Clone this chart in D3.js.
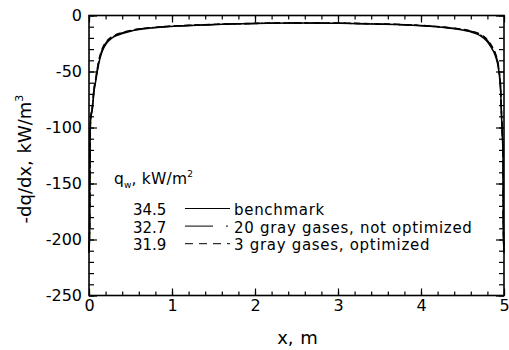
<!DOCTYPE html>
<html>
<head>
<meta charset="utf-8">
<script src="https://cdn.jsdelivr.net/npm/d3@7"></script>
<style>
  html, body { margin: 0; padding: 0; background: #fff; }
  svg text { font-family: "DejaVu Sans", "Liberation Sans", sans-serif; fill: #000; }
</style>
</head>
<body>
<svg id="chart" width="509" height="350"></svg>
<script>
// Positions across the slab, m
const xPos = [0, 0.008, 0.012, 0.02, 0.04, 0.06, 0.08, 0.1, 0.12, 0.15, 0.18, 0.22, 0.27, 0.33, 0.4, 0.5,
  0.6, 0.75, 0.9, 1.1, 1.3, 1.6, 2.0, 2.5, 3.0, 3.4, 3.7, 3.9, 4.1, 4.25, 4.4, 4.5, 4.6, 4.67,
  4.73, 4.78, 4.82, 4.85, 4.88, 4.9, 4.92, 4.94, 4.96, 4.97, 4.98, 4.988, 4.992, 5];

// -dq/dx, kW/m^3
const benchmark = [-212, -190, -120, -93, -84, -68, -59, -50, -42, -34, -28.5, -24, -20.5, -18, -16, -14,
  -12.6, -11.2, -10.2, -9.3, -8.6, -7.9, -7.2, -6.8, -7.0, -7.5, -8.1, -8.7, -9.6, -10.5, -11.8,
  -12.9, -14.6, -16.4, -18.8, -21.8, -25.5, -29, -33, -37, -42, -51, -68, -90, -108, -125, -190, -212];
const gray20 = [-210, -188, -118, -92, -82.5, -66.5, -57.5, -48.5, -40.5, -32.5, -27.3, -23, -19.8, -17.4, -15.5, -13.6,
  -12.3, -11.0, -10.0, -9.2, -8.5, -7.8, -7.1, -6.7, -6.9, -7.4, -8.0, -8.6, -9.4, -10.3, -11.5,
  -12.5, -14.1, -15.8, -18.0, -20.8, -24.3, -27.7, -31.6, -35.5, -40.5, -49.5, -66.5, -88.5, -106, -123, -188, -210];
const gray3 = [-208, -186, -116, -91, -81.5, -65.5, -56.5, -47.5, -39.5, -31.5, -26.5, -22.4, -19.3, -17.0, -15.2, -13.4,
  -12.1, -10.9, -9.9, -9.1, -8.4, -7.7, -7.0, -6.6, -6.8, -7.3, -7.9, -8.5, -9.3, -10.1, -11.3,
  -12.2, -13.8, -15.4, -17.5, -20.2, -23.6, -26.9, -30.7, -34.5, -39.5, -48.5, -65.5, -87.5, -105, -121, -186, -208];

const legendValues = ["34.5", "32.7", "31.9"];
const legendNames = ["benchmark", "20 gray gases, not optimized", "3 gray gases, optimized"];
const legendDashes = [null, "28,13,2,40", "8,6"];
const curveDashes = [null, "14,3,2,3", "6,4"];

const xTicks = [0, 1, 2, 3, 4, 5];
const yTicks = [0, -50, -100, -150, -200, -250];

const margin = { left: 89, right: 5, top: 15.5, bottom: 54.5 };
const W = 509, H = 350;
const svg = d3.select("#chart");

const x = d3.scaleLinear().domain([0, 5]).range([margin.left, W - margin.right]);
const y = d3.scaleLinear().domain([-250, 0]).range([H - margin.bottom, margin.top]);

const plot = svg.append("g");

// Frame ticks (inward on every side), minor and major
function tickAxis(axisFn, scale, values, size, transform) {
  const g = plot.append("g").attr("transform", transform)
    .call(axisFn(scale).tickValues(values).tickSize(size).tickFormat(""));
  g.select(".domain").remove();
  g.selectAll("line").attr("stroke", "#000").attr("stroke-width", 1.2);
  return g;
}
const xMinor = d3.range(0, 5.0001, 0.2);
const yMinor = d3.range(-250, 0.001, 10);
const bottomY = y(-250), topY = y(0), leftX = x(0), rightX = x(5);

tickAxis(d3.axisTop, x, xMinor, 4, `translate(0,${bottomY})`);
tickAxis(d3.axisTop, x, xTicks, 7, `translate(0,${bottomY})`);
tickAxis(d3.axisBottom, x, xMinor, 4, `translate(0,${topY})`);
tickAxis(d3.axisBottom, x, xTicks, 7, `translate(0,${topY})`);
tickAxis(d3.axisRight, y, yMinor, 5, `translate(${leftX},0)`);
tickAxis(d3.axisRight, y, yTicks, 8, `translate(${leftX},0)`);
tickAxis(d3.axisLeft, y, yMinor, 5, `translate(${rightX},0)`);
tickAxis(d3.axisLeft, y, yTicks, 8, `translate(${rightX},0)`);

// Tick labels
const xLab = plot.append("g").attr("transform", `translate(0,${bottomY})`)
  .call(d3.axisBottom(x).tickValues(xTicks).tickSize(0).tickPadding(4).tickFormat(d3.format("d")));
xLab.select(".domain").remove();
xLab.selectAll("text").attr("font-size", 16).attr("font-family", "DejaVu Sans");

const yLab = plot.append("g").attr("transform", `translate(${leftX},0)`)
  .call(d3.axisLeft(y).tickValues(yTicks).tickSize(0).tickPadding(7).tickFormat(d => d === 0 ? "0" : "-" + Math.abs(d)));
yLab.select(".domain").remove();
yLab.selectAll("text").attr("font-size", 16).attr("font-family", "DejaVu Sans");

// Frame
plot.append("rect")
  .attr("x", leftX).attr("y", topY)
  .attr("width", rightX - leftX).attr("height", bottomY - topY)
  .attr("fill", "none").attr("stroke", "#000").attr("stroke-width", 1.6);

// Curves
const series = [benchmark, gray20, gray3];
const line = d3.line().x((d, i) => x(xPos[i])).y(d => y(d)).curve(d3.curveMonotoneX);
series.forEach((s, k) => {
  plot.append("path").datum(s)
    .attr("d", line)
    .attr("fill", "none")
    .attr("stroke", "#000")
    .attr("stroke-width", 1.5)
    .attr("stroke-dasharray", curveDashes[k]);
});

// Axis titles
svg.append("text")
  .attr("x", (leftX + rightX) / 2 + 1).attr("y", 344)
  .attr("text-anchor", "middle").attr("font-size", 18).attr("word-spacing", 1)
  .text("x, m");

const yTitle = svg.append("text")
  .attr("transform", `translate(31,159) rotate(-90)`)
  .attr("text-anchor", "middle").attr("font-size", 18).attr("word-spacing", 1);
yTitle.append("tspan").text("-dq/dx, kW/m");
yTitle.append("tspan").attr("dy", -8).attr("font-size", 11).text("3");

// Legend
const leg = svg.append("g");
const lt = leg.append("text").attr("x", 114).attr("y", 184).attr("font-size", 15.5).attr("letter-spacing", 0.2);
lt.append("tspan").text("q");
lt.append("tspan").attr("dy", 4).attr("font-size", 9).text("w");
lt.append("tspan").attr("dy", -4).text(", kW/m");
lt.append("tspan").attr("dy", -7).attr("font-size", 9).text("2");

legendValues.forEach((v, i) => {
  const by = 215 + i * 17.6;
  leg.append("text").attr("x", 133).attr("y", by).attr("font-size", 15).text(v);
  leg.append("line")
    .attr("x1", 185).attr("x2", 230)
    .attr("y1", by - 6.5).attr("y2", by - 6.5)
    .attr("stroke", "#000").attr("stroke-width", 1)
    .attr("stroke-dasharray", legendDashes[i]);
  leg.append("text").attr("x", 234).attr("y", by).attr("font-size", 15)
    .attr("letter-spacing", 0.7).text(legendNames[i]);
});
</script>
</body>
</html>
